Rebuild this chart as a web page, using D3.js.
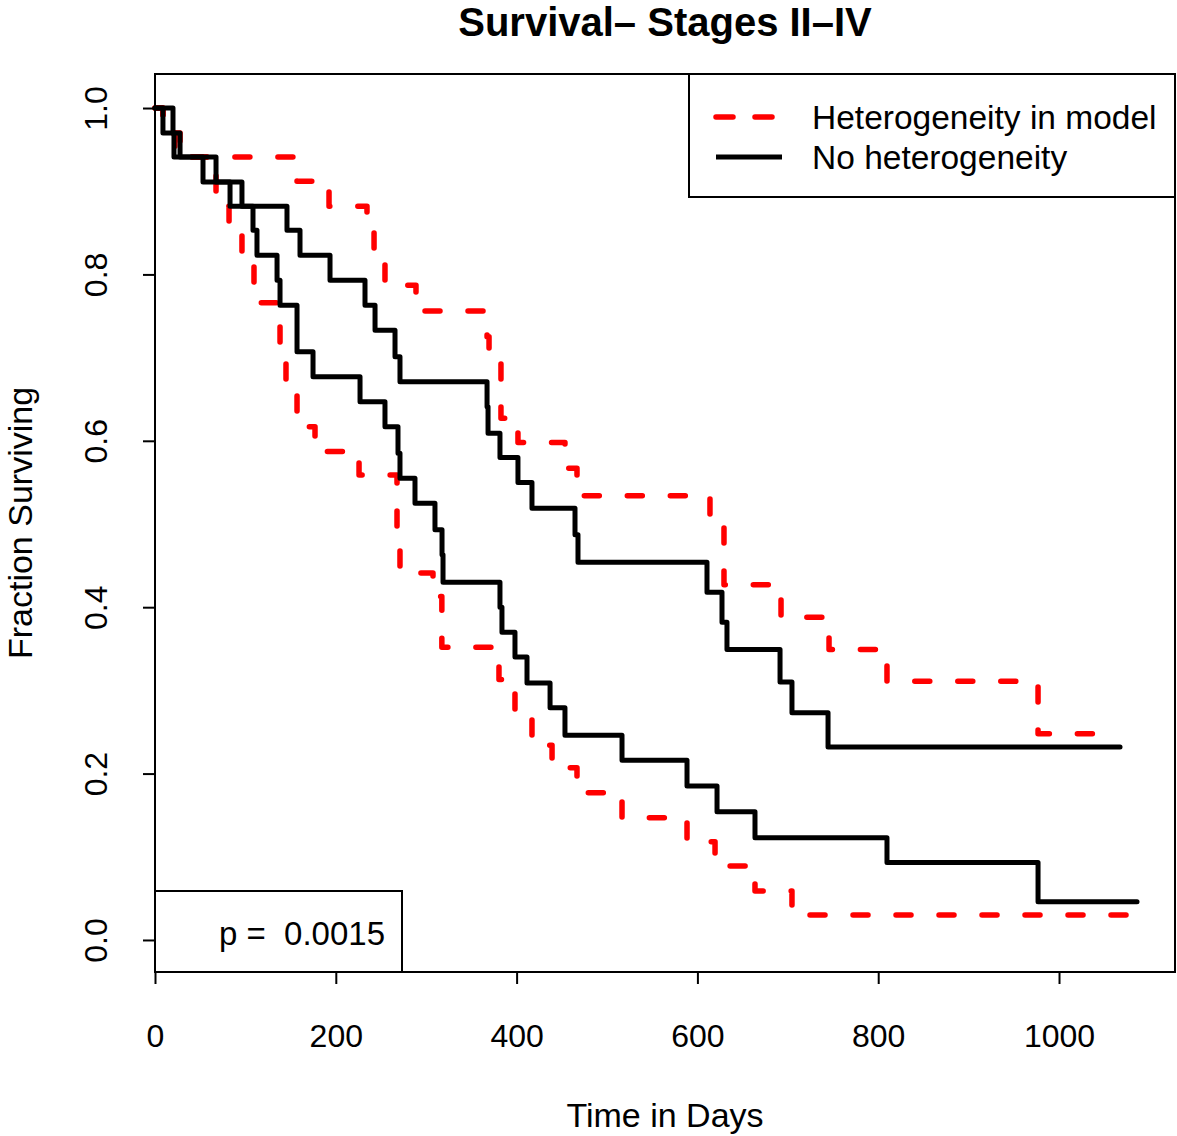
<!DOCTYPE html>
<html>
<head>
<meta charset="utf-8">
<script src="https://cdn.jsdelivr.net/npm/d3@7/dist/d3.min.js"></script>
<style>
  html, body { margin: 0; padding: 0; background: #fff; }
  svg { display: block; }
  text { font-family: "Liberation Sans", Arial, Helvetica, sans-serif; fill: #000; }
</style>
</head>
<body>
<svg id="chart" width="1177" height="1136"></svg>
<script>
// ---- Data ----
const hetLowTime  = [0, 8.8, 27.7, 67.5, 81.9, 96.2, 109.5, 135, 138.3, 144.9, 157.1, 177, 225.7, 267.7, 271, 307.5, 317.3, 380.5, 398.2, 417, 439.2, 466.8, 516.6, 588.5, 619.5, 663.7, 704.6, 1087.4];
const hetLowSurv  = [1, 0.970, 0.941, 0.882, 0.853, 0.819, 0.766, 0.739, 0.709, 0.669, 0.617, 0.587, 0.559, 0.493, 0.441, 0.413, 0.352, 0.313, 0.274, 0.234, 0.207, 0.177, 0.147, 0.118, 0.089, 0.059, 0.030, 0.030];

const hetHighTime = [0, 8.8, 22, 157.1, 192.5, 234.5, 242.3, 254.4, 288.7, 367.3, 369.5, 382.7, 401.5, 453.5, 466.8, 613.9, 629.4, 692.5, 745.6, 809.7, 976.8, 1065.3];
const hetHighSurv = [1, 0.970, 0.941, 0.912, 0.882, 0.853, 0.823, 0.787, 0.756, 0.725, 0.695, 0.627, 0.598, 0.567, 0.534, 0.501, 0.427, 0.388, 0.349, 0.311, 0.248, 0.248];

const noHetHighTime = [0, 19.9, 21, 67.5, 96.2, 146, 160.4, 193.6, 232.3, 243.4, 265.5, 271, 367.3, 368.4, 381.6, 401.5, 417, 464.6, 467.9, 610.6, 627.2, 632.7, 691.4, 704.6, 744.5, 1067.5];
const noHetHighSurv = [1, 0.970, 0.941, 0.911, 0.882, 0.853, 0.823, 0.793, 0.763, 0.733, 0.701, 0.671, 0.641, 0.609, 0.580, 0.550, 0.519, 0.487, 0.454, 0.418, 0.382, 0.349, 0.310, 0.273, 0.232, 0.232];

const noHetLowTime = [0, 8.8, 27.7, 53.1, 83, 108.4, 112.8, 135, 138.3, 157.1, 174.8, 226.8, 254.4, 268.8, 271, 287.6, 309.7, 317.5, 318.6, 381.6, 383.8, 398.2, 411.5, 437, 453.5, 516.6, 588.5, 621.7, 663.7, 809.7, 976.8, 1086.3];
const noHetLowSurv = [1, 0.970, 0.941, 0.911, 0.882, 0.853, 0.823, 0.793, 0.763, 0.707, 0.677, 0.647, 0.617, 0.585, 0.555, 0.525, 0.493, 0.463, 0.430, 0.400, 0.370, 0.340, 0.309, 0.279, 0.246, 0.216, 0.185, 0.154, 0.123, 0.093, 0.046, 0.046];

const xTicks = [0, 200, 400, 600, 800, 1000];
const yTicks = [0.0, 0.2, 0.4, 0.6, 0.8, 1.0];
const legendLabels = ["Heterogeneity in model", "No heterogeneity"];
const titleText = "Survival\u2013 Stages II\u2013IV";
const xLabel = "Time in Days";
const yLabel = "Fraction Surviving";
const pText = "p =  0.0015";

// ---- Layout ----
const svg = d3.select("#chart");
const x = d3.scaleLinear().domain([0, 1128.3]).range([155, 1175]);
const y = d3.scaleLinear().domain([-0.0385, 1.0409]).range([972, 74]);
const pL = x.range()[0], pR = x.range()[1], pT = y.range()[1], pB = y.range()[0];

const line = d3.line().x(d => x(d[0])).y(d => y(d[1])).curve(d3.curveStepAfter);
const zipPts = (t, s) => t.map((v, i) => [v, s[i]]);

const RED = "#ff0000";
const dash = "15 28";

// red (drawn first, black on top)
[[hetLowTime, hetLowSurv], [hetHighTime, hetHighSurv]].forEach(([t, s]) => {
  svg.append("path").attr("d", line(zipPts(t, s)))
    .attr("fill", "none").attr("stroke", RED).attr("stroke-width", 5.5)
    .attr("stroke-dasharray", dash).attr("stroke-linecap", "round").attr("stroke-linejoin", "round");
});
[[noHetLowTime, noHetLowSurv], [noHetHighTime, noHetHighSurv]].forEach(([t, s]) => {
  svg.append("path").attr("d", line(zipPts(t, s)))
    .attr("fill", "none").attr("stroke", "#000").attr("stroke-width", 5)
    .attr("stroke-linecap", "round").attr("stroke-linejoin", "round");
});

// plot frame
svg.append("rect").attr("x", pL).attr("y", pT).attr("width", pR - pL).attr("height", pB - pT)
  .attr("fill", "none").attr("stroke", "#000").attr("stroke-width", 2);

// x axis
const gx = svg.append("g").attr("transform", `translate(0,${pB})`)
  .call(d3.axisBottom(x).tickValues(xTicks).tickSize(12).tickFormat(d3.format("d")));
gx.select(".domain").attr("stroke", "#000").attr("stroke-width", 2).attr("d", `M${x(0)},0H${x(1000)}`);
gx.selectAll(".tick line").attr("stroke", "#000").attr("stroke-width", 2);
gx.selectAll(".tick text").attr("y", 75).attr("dy", null).style("font-size", "32px").attr("fill", "#000");

// y axis
const gy = svg.append("g").attr("transform", `translate(${pL},0)`)
  .call(d3.axisLeft(y).tickValues(yTicks).tickSize(12).tickFormat(d3.format(".1f")));
gy.select(".domain").attr("stroke", "#000").attr("stroke-width", 2).attr("d", `M0,${y(0)}V${y(1)}`);
gy.selectAll(".tick line").attr("stroke", "#000").attr("stroke-width", 2);
gy.selectAll(".tick text").attr("x", 0).attr("y", -48).attr("dy", null)
  .attr("text-anchor", "middle").attr("transform", "rotate(-90)")
  .style("font-size", "32px").attr("fill", "#000");

// title and axis labels
svg.append("text").attr("x", (pL + pR) / 2).attr("y", 36).attr("text-anchor", "middle")
  .style("font-size", "40px").style("font-weight", "bold").text(titleText);
svg.append("text").attr("x", (pL + pR) / 2).attr("y", 1127).attr("text-anchor", "middle")
  .style("font-size", "34px").text(xLabel);
svg.append("text").attr("transform", `translate(32,${(pT + pB) / 2}) rotate(-90)`)
  .attr("text-anchor", "middle").style("font-size", "34px").text(yLabel);

// legend
svg.append("rect").attr("x", 689).attr("y", pT).attr("width", pR - 689).attr("height", 197 - pT)
  .attr("fill", "#fff").attr("stroke", "#000").attr("stroke-width", 2);
const legY = [117, 157];
svg.append("line").attr("x1", 716).attr("x2", 782).attr("y1", legY[0]).attr("y2", legY[0])
  .attr("stroke", RED).attr("stroke-width", 5.5).attr("stroke-dasharray", "17 22").attr("stroke-linecap", "round");
svg.append("line").attr("x1", 716).attr("x2", 782).attr("y1", legY[1]).attr("y2", legY[1])
  .attr("stroke", "#000").attr("stroke-width", 5).attr("stroke-linecap", "butt");
legendLabels.forEach((t, i) => {
  svg.append("text").attr("x", 812).attr("y", legY[i] + 12).style("font-size", "33.5px").text(t);
});

// p-value box
svg.append("rect").attr("x", pL).attr("y", 891).attr("width", 402 - pL).attr("height", pB - 891)
  .attr("fill", "#fff").attr("stroke", "#000").attr("stroke-width", 2);
svg.append("text").attr("x", 385).attr("y", 945).attr("text-anchor", "end")
  .style("font-size", "33px").style("white-space", "pre").text(pText);
</script>
</body>
</html>
